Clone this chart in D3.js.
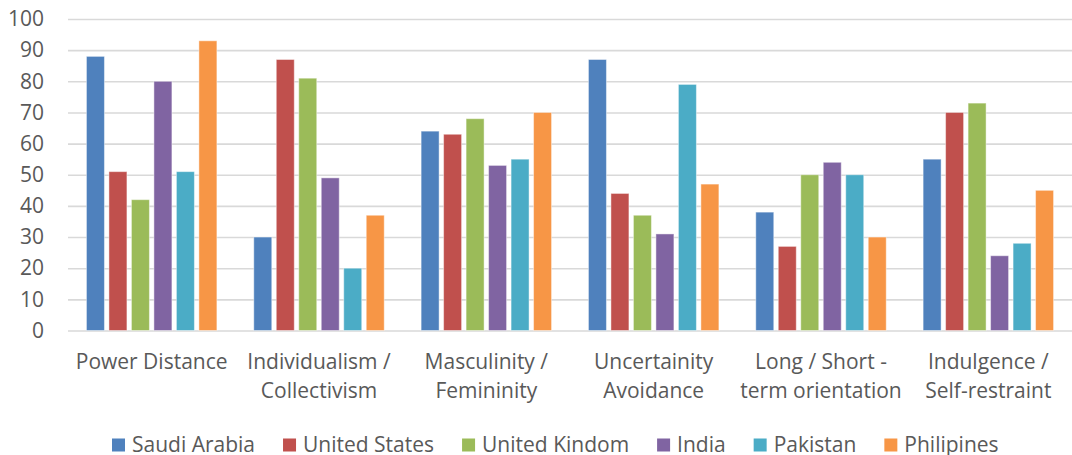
<!DOCTYPE html>
<html>
<head>
<meta charset="utf-8">
<script src="https://cdn.jsdelivr.net/npm/d3@7"></script>
<style>
  html, body { margin: 0; padding: 0; background: #ffffff; }
  svg { display: block; }
  text { font-family: "Open Sans", "Noto Sans", sans-serif; fill: #595959; }
</style>
</head>
<body>
<svg id="chart" width="1072" height="455"></svg>
<script>
// ---- data ----
const categories = [
  ["Power Distance"],
  ["Individualism /", "Collectivism"],
  ["Masculinity /", "Femininity"],
  ["Uncertainity", "Avoidance"],
  ["Long / Short -", "term orientation"],
  ["Indulgence /", "Self-restraint"]
];
const seriesNames = ["Saudi Arabia", "United States", "United Kindom", "India", "Pakistan", "Philipines"];
const saudiArabia  = [88, 30, 64, 87, 38, 55];
const unitedStates = [51, 87, 63, 44, 27, 70];
const unitedKindom = [42, 81, 68, 37, 50, 73];
const india        = [80, 49, 53, 31, 54, 24];
const pakistan     = [51, 20, 55, 79, 50, 28];
const philipines   = [93, 37, 70, 47, 30, 45];
const yTicks = [0, 10, 20, 30, 40, 50, 60, 70, 80, 90, 100];
const colors = ["#4F81BD", "#C0504D", "#9BBB59", "#8064A2", "#4BACC6", "#F79646"];

const seriesValues = [saudiArabia, unitedStates, unitedKindom, india, pakistan, philipines];

// ---- layout ----
const svg = d3.select("#chart");
const plotLeft = 68, plotRight = 1072, plotTop = 19, plotBottom = 330.5;

const x0 = d3.scaleBand()
  .domain(d3.range(categories.length))
  .range([plotLeft, plotRight])
  .paddingInner(0).paddingOuter(0);

const x1 = d3.scaleBand()
  .domain(d3.range(seriesNames.length))
  .range([0, x0.bandwidth()])
  .paddingInner(0.2)
  .paddingOuter(0.82);

const y = d3.scaleLinear().domain([0, 100]).range([plotBottom, plotTop]);

// gridlines
const yAxis = d3.axisLeft(y).tickValues(yTicks).tickSize(-(plotRight - plotLeft)).tickPadding(24).tickFormat(d3.format("d"));
const gy = svg.append("g").attr("transform", `translate(${plotLeft},0)`).call(yAxis);
gy.select(".domain").remove();
gy.selectAll(".tick line").attr("stroke", "#D9D9D9").attr("stroke-width", 1.6);
gy.selectAll(".tick text")
  .attr("x", 44 - plotLeft)
  .attr("font-size", 21)
  .style("font-family", '"Open Sans", sans-serif')
  .attr("fill", "#595959");

// bars
const groups = svg.append("g").selectAll("g")
  .data(categories.map((c, i) => i))
  .join("g")
  .attr("transform", i => `translate(${x0(i)},0)`);

groups.selectAll("rect")
  .data(i => seriesValues.map((vals, s) => ({ s, v: vals[i] })))
  .join("rect")
  .attr("x", d => x1(d.s))
  .attr("width", x1.bandwidth())
  .attr("y", d => y(d.v))
  .attr("height", d => y(0) - y(d.v))
  .attr("fill", d => colors[d.s])
  .attr("stroke", "rgba(255,255,255,0.45)")
  .attr("stroke-width", 1);

// category labels
const xAxis = svg.append("g");
categories.forEach((lines, i) => {
  const t = xAxis.append("text")
    .attr("x", x0(i) + x0.bandwidth() / 2)
    .attr("y", 369)
    .attr("text-anchor", "middle")
    .attr("font-size", 21);
  lines.forEach((ln, k) => {
    t.append("tspan")
      .attr("x", x0(i) + x0.bandwidth() / 2)
      .attr("y", 369 + k * 28.7)
      .text(ln);
  });
});

// legend
const legend = svg.append("g");
let lx = 112;
seriesNames.forEach((name, s) => {
  legend.append("rect")
    .attr("x", lx).attr("y", 438.5)
    .attr("width", 13).attr("height", 13)
    .attr("fill", colors[s]);
  const t = legend.append("text")
    .attr("x", lx + 20).attr("y", 451.5)
    .attr("font-size", 21)
    .text(name);
  lx += 20 + t.node().getComputedTextLength() + 28;
});
</script>
</body>
</html>
